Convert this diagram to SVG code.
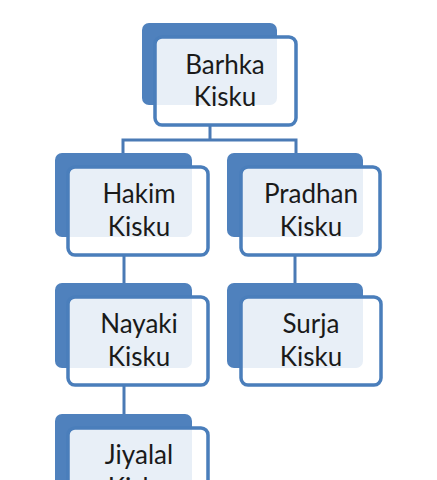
<svg xmlns="http://www.w3.org/2000/svg" width="437" height="480" viewBox="0 0 437 480">
<style>
.back{fill:#4f81bd}
.front{fill:#ffffff;fill-opacity:0.87;stroke:#4a7ebb;stroke-width:3.5}
.lbl{font-family:Lato,"Open Sans",sans-serif;font-size:26px;fill:#1a1a1a;text-anchor:middle}
.conn{fill:none;stroke:#4a7ab5;stroke-width:3}
</style>
<rect width="437" height="480" fill="#ffffff"/>
<g id="connectors">
<path class="conn" d="M210,125 V140 M123,155 V140 H296 V155"/>
<path class="conn" d="M124,255 V283"/>
<path class="conn" d="M295,255 V283"/>
<path class="conn" d="M124,385 V414"/>
</g>
<g id="barhka">
<rect class="back" x="142" y="23" width="135" height="82" rx="7"/>
<rect class="front" x="155" y="37" width="141" height="88" rx="7"/>
<text class="lbl" x="225" y="74">Barhka</text>
<text class="lbl" x="225" y="106">Kisku</text>
</g>
<g id="hakim">
<rect class="back" x="55" y="153" width="137" height="84" rx="7"/>
<rect class="front" x="68" y="167" width="140" height="88" rx="7"/>
<text class="lbl" x="139" y="203">Hakim</text>
<text class="lbl" x="139" y="236">Kisku</text>
</g>
<g id="pradhan">
<rect class="back" x="227" y="153" width="136" height="84" rx="7"/>
<rect class="front" x="241" y="167" width="139" height="88" rx="7"/>
<text class="lbl" x="311" y="203">Pradhan</text>
<text class="lbl" x="311" y="236">Kisku</text>
</g>
<g id="nayaki">
<rect class="back" x="55" y="283" width="137" height="85" rx="7"/>
<rect class="front" x="68" y="297" width="140" height="88" rx="7"/>
<text class="lbl" x="139" y="333">Nayaki</text>
<text class="lbl" x="139" y="366">Kisku</text>
</g>
<g id="surja">
<rect class="back" x="227" y="283" width="136" height="85" rx="7"/>
<rect class="front" x="241" y="297" width="140" height="88" rx="7"/>
<text class="lbl" x="311" y="333">Surja</text>
<text class="lbl" x="311" y="366">Kisku</text>
</g>
<g id="jiyalal">
<rect class="back" x="55" y="414" width="137" height="85" rx="7"/>
<rect class="front" x="68" y="428" width="140" height="88" rx="7"/>
<text class="lbl" x="139" y="464">Jiyalal</text>
<text class="lbl" x="139" y="497">Kisku</text>
</g>
</svg>
